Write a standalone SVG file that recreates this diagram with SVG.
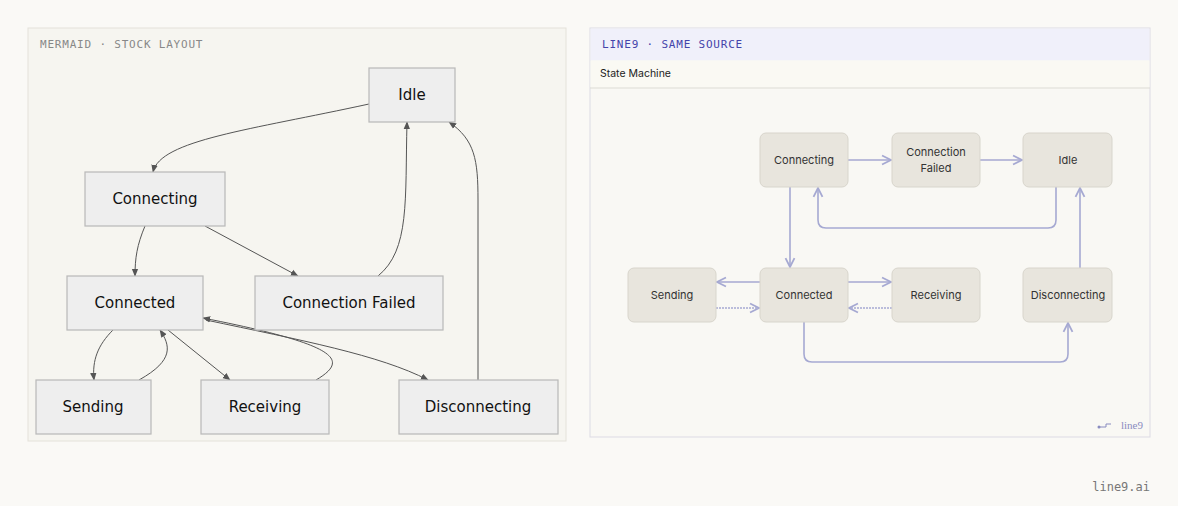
<svg xmlns="http://www.w3.org/2000/svg" width="1178" height="506" viewBox="0 0 1178 506">
<style>
.mn rect{fill:#eeeeee;stroke:#b8b8b8;stroke-width:1.2}
.mn text{font-family:"DejaVu Sans",sans-serif;font-size:15px;fill:#111;text-anchor:middle;dominant-baseline:central}
.ln rect{fill:#e8e5dd;stroke:#d8d5cc;stroke-width:1}
.ln text{font-family:Inter,"Noto Sans",sans-serif;font-size:11px;fill:#333;text-anchor:middle;dominant-baseline:central}
.me path{fill:none;stroke:#555;stroke-width:1}
.le path{fill:none;stroke:#a6a9d2;stroke-width:1.6}
.mono{font-family:"DejaVu Sans Mono","Liberation Mono",monospace;font-size:11px;letter-spacing:0.8px}
</style>
<defs>
<marker id="ma" viewBox="0 0 10 10" refX="9" refY="5" markerWidth="8" markerHeight="8" orient="auto"><path d="M0,1 L10,5 L0,9 z" fill="#555"/></marker>
<marker id="la" viewBox="0 0 10 10" refX="9" refY="5" markerWidth="7" markerHeight="7" orient="auto"><path d="M1,1 L9,5 L1,9" fill="none" stroke="#a6a9d2" stroke-width="1.6"/></marker>
</defs>
<rect width="1178" height="506" fill="#faf9f6"/>
<rect x="28" y="28" width="538" height="413" fill="#f6f5f0" stroke="#e4e2da"/>
<text x="40" y="48" class="mono" fill="#888">MERMAID · STOCK LAYOUT</text>
<rect x="590" y="28" width="560" height="409" fill="#f9f8f4" stroke="#dcdbe4"/>
<rect x="590.5" y="28.5" width="559" height="32" fill="#f0f0fa"/>
<rect x="590.5" y="60.5" width="559" height="27" fill="#faf9f3"/>
<line x1="590" y1="88" x2="1150" y2="88" stroke="#dddbd4"/>
<text x="602" y="48" class="mono" fill="#4444aa">LINE9 · SAME SOURCE</text>
<text x="600" y="77" font-family="Inter,sans-serif" font-size="10.5" fill="#222">State Machine</text>
<text x="1143" y="429" font-family="Liberation Serif,serif" font-size="11" fill="#8a8cc0" text-anchor="end">line9</text>
<path d="M1099,427 h7 v-3 h5" fill="none" stroke="#8a8cc0" stroke-width="1"/><circle cx="1099" cy="427" r="1.5" fill="#8a8cc0"/>
<text x="1150" y="491" font-family="DejaVu Sans Mono,monospace" font-size="12" fill="#777" text-anchor="end">line9.ai</text>

<g class="me">
<path d="M369,104 C250,130 160,140 153,172" marker-end="url(#ma)"/>
<path d="M145,226 C137,245 135,258 135,276" marker-end="url(#ma)"/>
<path d="M205,226 L298,276" marker-end="url(#ma)"/>
<path d="M378,276 C410,250 405,200 407,122" marker-end="url(#ma)"/>
<path d="M478,380 L478,240 L478,200 C478,160 475,140 449,122" marker-end="url(#ma)"/>
<path d="M113,330 C98,345 92,360 94,380" marker-end="url(#ma)"/>
<path d="M139,380 C175,360 170,345 160,330" marker-end="url(#ma)"/>
<path d="M168,330 L230,380" marker-end="url(#ma)"/>
<path d="M316,380 C350,360 340,345 203,318" marker-end="url(#ma)"/>
<path d="M206,320 C300,340 380,355 428,380" marker-end="url(#ma)"/>
</g>
<g id="m-idle" class="mn"><rect x="369" y="68" width="86" height="54"/><text x="412" y="95">Idle</text></g>
<g id="m-connecting" class="mn"><rect x="85" y="172" width="140" height="54"/><text x="155" y="199">Connecting</text></g>
<g id="m-connected" class="mn"><rect x="67" y="276" width="136" height="54"/><text x="135" y="303">Connected</text></g>
<g id="m-failed" class="mn"><rect x="255" y="276" width="188" height="54"/><text x="349" y="303">Connection Failed</text></g>
<g id="m-sending" class="mn"><rect x="36" y="380" width="115" height="54"/><text x="93" y="407">Sending</text></g>
<g id="m-receiving" class="mn"><rect x="201" y="380" width="128" height="54"/><text x="265" y="407">Receiving</text></g>
<g id="m-disconnecting" class="mn"><rect x="399" y="380" width="159" height="54"/><text x="478" y="407">Disconnecting</text></g>

<g class="le">
<path d="M848,160 H891" marker-end="url(#la)"/>
<path d="M980,160 H1022" marker-end="url(#la)"/>
<path d="M1056,187 V220 Q1056,228 1048,228 H826 Q818,228 818,220 V188" marker-end="url(#la)"/>
<path d="M790,187 V267" marker-end="url(#la)"/>
<path d="M760,282 H717" marker-end="url(#la)"/>
<path d="M716,308 H759" stroke-dasharray="2 1" marker-end="url(#la)"/>
<path d="M848,282 H891" marker-end="url(#la)"/>
<path d="M892,308 H849" stroke-dasharray="2 1" marker-end="url(#la)"/>
<path d="M804,322 V354 Q804,362 812,362 H1060 Q1068,362 1068,354 V323" marker-end="url(#la)"/>
<path d="M1080,268 V188" marker-end="url(#la)"/>
</g>
<g id="l-connecting" class="ln"><rect x="760" y="133" width="88" height="54" rx="6"/><text x="804" y="160">Connecting</text></g>
<g id="l-failed" class="ln"><rect x="892" y="133" width="88" height="54" rx="6"/><text x="936" y="152">Connection</text><text x="936" y="168">Failed</text></g>
<g id="l-idle" class="ln"><rect x="1023" y="133" width="89" height="54" rx="6"/><text x="1068" y="160">Idle</text></g>
<g id="l-sending" class="ln"><rect x="628" y="268" width="88" height="54" rx="6"/><text x="672" y="295">Sending</text></g>
<g id="l-connected" class="ln"><rect x="760" y="268" width="88" height="54" rx="6"/><text x="804" y="295">Connected</text></g>
<g id="l-receiving" class="ln"><rect x="892" y="268" width="88" height="54" rx="6"/><text x="936" y="295">Receiving</text></g>
<g id="l-disconnecting" class="ln"><rect x="1023" y="268" width="89" height="54" rx="6"/><text x="1068" y="295">Disconnecting</text></g>
</svg>
